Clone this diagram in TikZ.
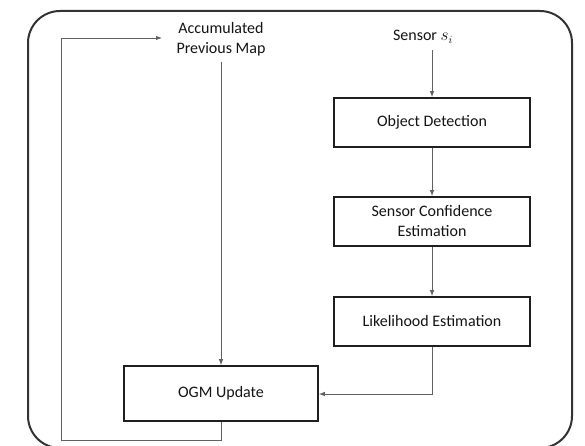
\documentclass[tikz,border=0pt]{standalone}
\usepackage{fontspec}
\setmainfont{Carlito}
\usetikzlibrary{arrows.meta}
\begin{document}
\begin{tikzpicture}[x=1pt,y=-1pt,
  every node/.style={font=\fontsize{16}{20}\selectfont, text=black!92},
  procbox/.style={draw=black!88, line width=1.6pt, minimum width=196pt, minimum height=49pt, inner sep=0pt, align=center},
  conn/.style={draw=black!62, line width=0.9pt, -{Latex[length=6pt,width=4.5pt]}},
  plainconn/.style={draw=black!62, line width=0.9pt}
]
\path[use as bounding box, clip] (0,0) rectangle (585,446);
\fill[white] (0,0) rectangle (585,446);
\draw[draw=black!80, line width=2pt, rounded corners=32pt] (28,11) rectangle (572,448);

\node[procbox] (od) at (432,122.5) {Object Detection};
\node[procbox] (sce) at (432,221.5) {Sensor Confidence\\Estimation};
\node[procbox] (le) at (432,321.5) {Likelihood Estimation};
\node[procbox, minimum width=194pt, minimum height=55pt] (ogm) at (221,393.5) {OGM Update};

\node[inner sep=2pt] (sensor) at (423,37) {Sensor $s_i$};
\node[align=center, inner sep=2pt] (acc) at (221,39) {Accumulated\\Previous Map};

\coordinate (sensorEnd) at (432,50);
\coordinate (accEnd) at (221,62);
\coordinate (loopB) at (221,440);
\coordinate (loopL) at (61,440);
\coordinate (loopT) at (61,38);
\coordinate (loopTip) at (162,38);
\coordinate (leTurn) at (432,394);

\draw[conn] (sensorEnd) -- (od.north);
\draw[conn] (od.south) -- (sce.north);
\draw[conn] (sce.south) -- (le.north);
\draw[conn] (accEnd) -- (ogm.north);
\draw[conn] (le.south) -- (leTurn) -- (leTurn -| ogm.east);
\draw[conn] (ogm.south) -- (loopB) -- (loopL) -- (loopT) -- (loopTip);
\end{tikzpicture}
\end{document}
